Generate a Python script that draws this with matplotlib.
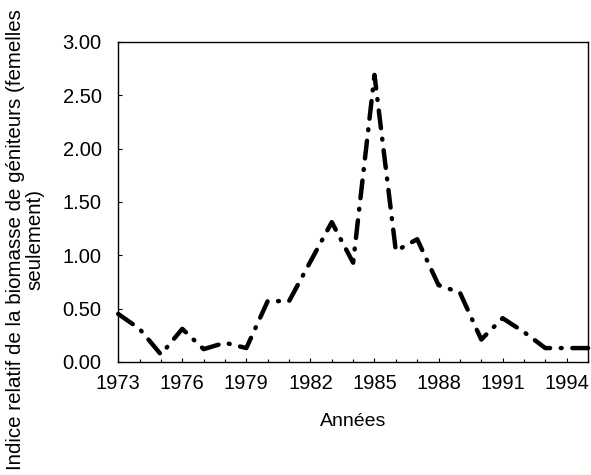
import matplotlib
matplotlib.use("Agg")
import matplotlib.pyplot as plt
from matplotlib.ticker import MultipleLocator

plt.rcParams['font.family'] = ['Liberation Sans', 'DejaVu Sans']

years = list(range(1973, 1996))
biomass = [0.45, 0.31, 0.07, 0.31, 0.12, 0.18, 0.13, 0.57, 0.57, 0.94, 1.31, 0.93,
           2.69, 1.04, 1.15, 0.72, 0.65, 0.21, 0.41, 0.28, 0.13, 0.13, 0.13]
xticks = [1973, 1976, 1979, 1982, 1985, 1988, 1991, 1994]
yticks = [0.0, 0.5, 1.0, 1.5, 2.0, 2.5, 3.0]

fig = plt.figure(figsize=(5.91, 4.75), dpi=100)
ax = fig.add_axes([0.2, 0.238, 0.795, 0.674])

ax.plot(years, biomass, color='black', linewidth=3.2,
        linestyle=(0, (4.0, 2.4, 0.2, 2.4)), dash_capstyle='round',
        solid_capstyle='round', clip_on=False)

ax.set_xlim(1973, 1995)
ax.set_ylim(0, 3.0)
ax.set_xticks(xticks)
ax.set_xticklabels([str(y) for y in xticks])
ax.xaxis.set_minor_locator(MultipleLocator(1))
ax.set_yticks(yticks)
ax.set_yticklabels(['%.2f' % v for v in yticks])

ax.tick_params(axis='both', direction='in', length=3, width=0.8, labelsize=14.5)
ax.tick_params(axis='x', which='minor', direction='in', length=2, width=0.8)
ax.tick_params(axis='x', pad=9)
ax.tick_params(axis='y', pad=12)
for s in ax.spines.values():
    s.set_linewidth(1.0)

ax.set_xlabel('Années', fontsize=14)
ax.xaxis.set_label_coords(0.5, -0.16)
fig.text(25 / 591, 1 - 240 / 475,
         'Indice relatif de la biomasse de géniteurs (femelles\nseulement)',
         rotation=90, ha='center', va='center', multialignment='center',
         fontsize=14.8, linespacing=1.0)

fig.savefig('out.png', dpi=100)
